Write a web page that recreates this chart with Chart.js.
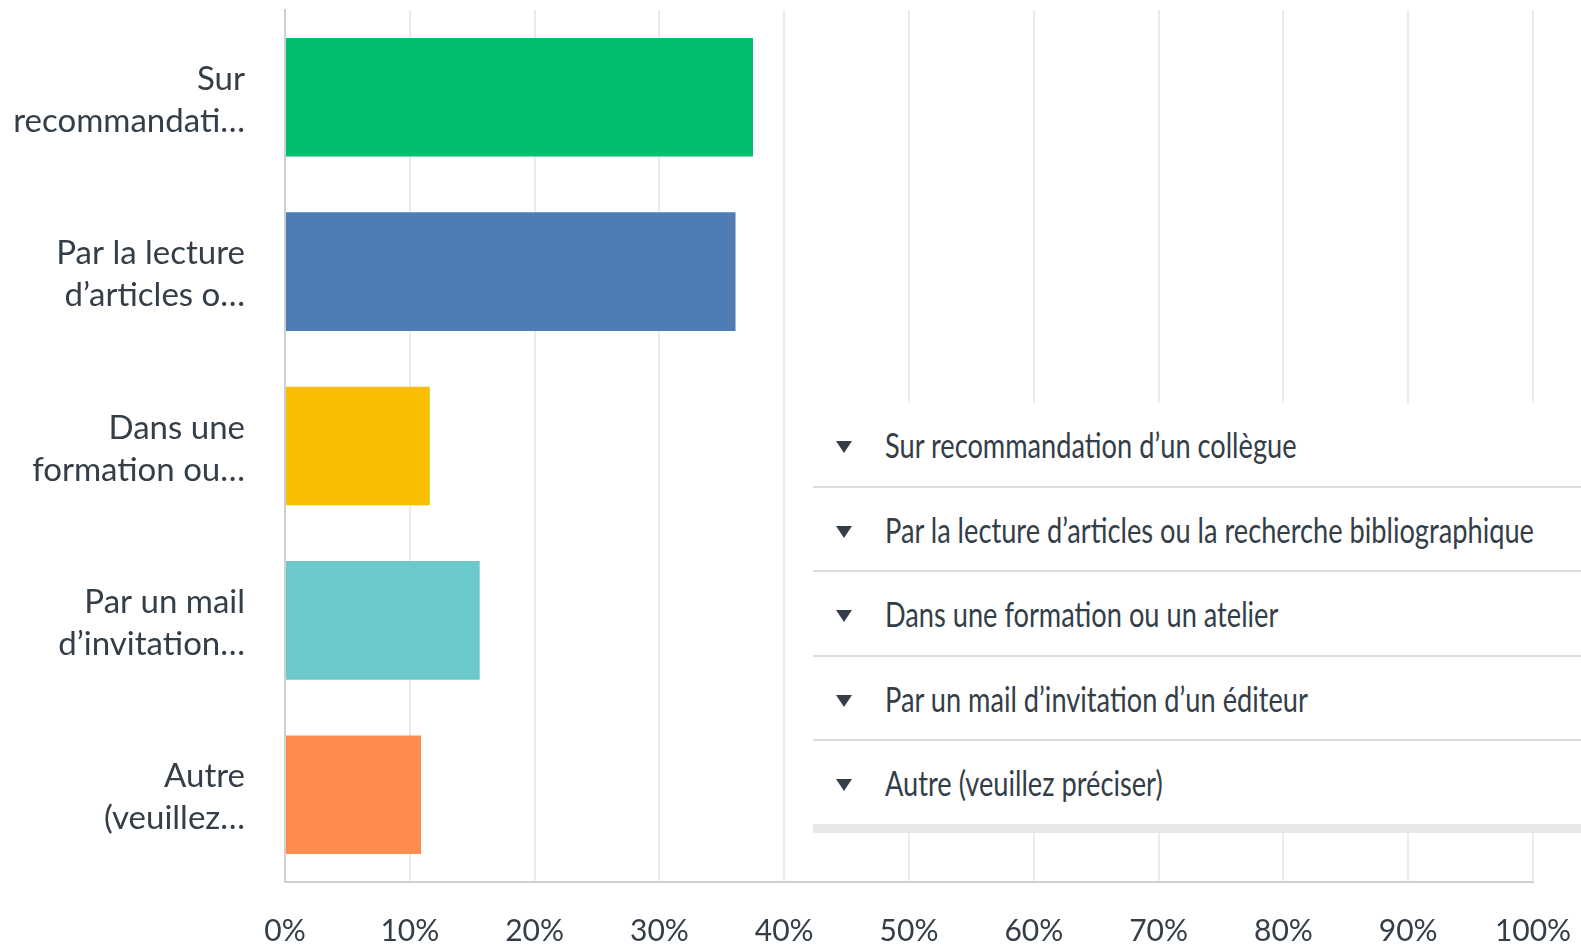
<!DOCTYPE html>
<html>
<head>
<meta charset="utf-8">
<script src="https://cdn.jsdelivr.net/npm/chart.js@4.4.0/dist/chart.umd.min.js"></script>
<style>
  body { margin: 0; background: #fff; }
  #wrap { position: relative; width: 1581px; height: 945px; overflow: hidden; }
  #answers { position: absolute; left: 813px; top: 403px; width: 768px; height: 430px; background: #fff; }
  .row { position: absolute; left: 0; width: 768px; border-bottom: 2px solid #dcdcdc; }
  .row.last { border-bottom: 9px solid #e8e8e8; }
  .arrow { position: absolute; left: 23px; width: 0; height: 0;
           border-left: 8px solid transparent; border-right: 8px solid transparent; border-top: 12px solid #333e48; }
  .txt { position: absolute; left: 72px; white-space: nowrap; font-family: Lato, sans-serif; font-size: 35px;
         color: #333e48; transform-origin: left center; }
</style>
</head>
<body>
<div id="wrap">
  <canvas id="diagram"></canvas>
  <div id="answers"></div>
</div>
<script>
// short labels on the axis, full answers in the list
var shortLabels = [['Sur', 'recommandati…'], ['Par la lecture', 'd’articles o…'], ['Dans une', 'formation ou…'],
                   ['Par un mail', 'd’invitation…'], ['Autre', '(veuillez…']];
var answers = ['Sur recommandation d’un collègue',
               'Par la lecture d’articles ou la recherche bibliographique',
               'Dans une formation ou un atelier',
               'Par un mail d’invitation d’un éditeur',
               'Autre (veuillez préciser)'];
var percents = [37.5, 36.1, 11.6, 15.6, 10.9];
var barColors = ['#00bf6f', '#507cb6', '#f9be00', '#6bc8cd', '#ff8b4f'];
var xTicks = [0, 10, 20, 30, 40, 50, 60, 70, 80, 90, 100];

var textColor = '#333e48';

var config = {
  type: 'bar',
  data: {
    labels: shortLabels,
    datasets: [{
      data: percents,
      backgroundColor: barColors,
      borderWidth: 0,
      categoryPercentage: 1,
      barPercentage: 0.68
    }]
  },
  options: {
    indexAxis: 'y',
    animation: false,
    responsive: true,
    maintainAspectRatio: false,
    layout: { padding: { top: 10, right: 48, bottom: 0, left: 0 } },
    plugins: { legend: { display: false }, tooltip: { enabled: false } },
    scales: {
      x: {
        min: 0,
        max: 100,
        afterBuildTicks: function (s) { s.ticks = xTicks.map(function (v) { return { value: v }; }); },
        afterFit: function (s) {
          s.height = 63;
          s.paddingLeft = 0;
          s.paddingRight = 0;
        },
        ticks: {
          callback: function (v) { return v + '%'; },
          color: textColor,
          font: { family: 'Lato', size: 30 },
          padding: 31,
          maxRotation: 0,
          autoSkip: false
        },
        grid: { color: '#ebebeb', lineWidth: 2, drawTicks: false },
        border: { color: '#d0d0d0', width: 2 }
      },
      y: {
        afterFit: function (s) {
          s.width = 285;
          s.paddingTop = 0;
          s.paddingBottom = 0;
        },
        ticks: {
          color: textColor,
          font: { family: 'Lato', size: 33, lineHeight: 1.27 },
          padding: 40,
          labelOffset: 3,
          autoSkip: false
        },
        grid: { display: false, drawTicks: false },
        border: { display: true, color: '#d0d0d0', width: 2 }
      }
    }
  }
};

var barChart = new Chart(document.getElementById('diagram'), config);

// answer list drawn over the right part of the chart
var box = document.getElementById('answers');
var rowPitch = 84.5;
var spans = [];
answers.forEach(function (a, i) {
  var row = document.createElement('div');
  row.className = 'row' + (i === answers.length - 1 ? ' last' : '');
  row.style.top = (i * rowPitch) + 'px';
  row.style.height = (rowPitch - 2) + 'px';
  var arrow = document.createElement('div');
  arrow.className = 'arrow';
  arrow.style.top = (rowPitch / 2 - 4) + 'px';
  var t = document.createElement('span');
  t.className = 'txt';
  t.textContent = a;
  row.appendChild(arrow);
  row.appendChild(t);
  box.appendChild(row);
  spans.push(t);
});

var widest = Math.max.apply(null, spans.map(function (s) { return s.offsetWidth; }));
var k = 649 / widest;
spans.forEach(function (s) {
  s.style.top = ((rowPitch - 2) / 2 - s.offsetHeight / 2) + 'px';
  s.style.transform = 'scaleX(' + k + ')';
});
</script>
</body>
</html>
